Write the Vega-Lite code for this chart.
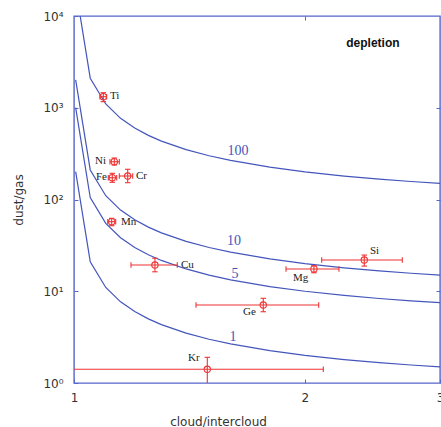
{
  "$schema": "https://vega.github.io/schema/vega-lite/v6.json",
  "width": 366,
  "height": 367,
  "autosize": {"type": "none"},
  "padding": {"left": 74, "top": 16, "right": 1, "bottom": 44},
  "background": "white",
  "config": {
    "view": {"stroke": "#5566cc", "strokeWidth": 1.4},
    "axis": {"grid": false, "domain": false, "labelFlush": false, "tickColor": "#5566cc", "tickWidth": 1, "tickSize": -4, "labelFont": "DejaVu Sans", "labelFontSize": 12, "labelColor": "#333333", "titleFont": "DejaVu Sans", "titleFontSize": 12, "titleFontWeight": "normal", "titleColor": "#333333"}
  },
  "datasets": {
    "curves": [
      {"D": "1", "x": 1.005, "y": 201}, {"D": "1", "x": 1.05, "y": 21}, {"D": "1", "x": 1.1, "y": 11}, {"D": "1", "x": 1.15, "y": 7.667}, {"D": "1", "x": 1.2, "y": 6}, {"D": "1", "x": 1.25, "y": 5}, {"D": "1", "x": 1.3, "y": 4.333}, {"D": "1", "x": 1.4, "y": 3.5}, {"D": "1", "x": 1.5, "y": 3}, {"D": "1", "x": 1.6, "y": 2.667}, {"D": "1", "x": 1.8, "y": 2.25}, {"D": "1", "x": 2.0, "y": 2}, {"D": "1", "x": 2.25, "y": 1.8}, {"D": "1", "x": 2.5, "y": 1.667}, {"D": "1", "x": 2.75, "y": 1.571}, {"D": "1", "x": 3.0, "y": 1.5},
      {"D": "5", "x": 1.005, "y": 1005}, {"D": "5", "x": 1.05, "y": 105}, {"D": "5", "x": 1.1, "y": 55}, {"D": "5", "x": 1.15, "y": 38.33}, {"D": "5", "x": 1.2, "y": 30}, {"D": "5", "x": 1.25, "y": 25}, {"D": "5", "x": 1.3, "y": 21.67}, {"D": "5", "x": 1.4, "y": 17.5}, {"D": "5", "x": 1.5, "y": 15}, {"D": "5", "x": 1.6, "y": 13.33}, {"D": "5", "x": 1.8, "y": 11.25}, {"D": "5", "x": 2.0, "y": 10}, {"D": "5", "x": 2.25, "y": 9}, {"D": "5", "x": 2.5, "y": 8.333}, {"D": "5", "x": 2.75, "y": 7.857}, {"D": "5", "x": 3.0, "y": 7.5},
      {"D": "10", "x": 1.005, "y": 2010}, {"D": "10", "x": 1.05, "y": 210}, {"D": "10", "x": 1.1, "y": 110}, {"D": "10", "x": 1.15, "y": 76.67}, {"D": "10", "x": 1.2, "y": 60}, {"D": "10", "x": 1.25, "y": 50}, {"D": "10", "x": 1.3, "y": 43.33}, {"D": "10", "x": 1.4, "y": 35}, {"D": "10", "x": 1.5, "y": 30}, {"D": "10", "x": 1.6, "y": 26.67}, {"D": "10", "x": 1.8, "y": 22.5}, {"D": "10", "x": 2.0, "y": 20}, {"D": "10", "x": 2.25, "y": 18}, {"D": "10", "x": 2.5, "y": 16.67}, {"D": "10", "x": 2.75, "y": 15.71}, {"D": "10", "x": 3.0, "y": 15},
      {"D": "100", "x": 1.005, "y": 20100}, {"D": "100", "x": 1.05, "y": 2100}, {"D": "100", "x": 1.1, "y": 1100}, {"D": "100", "x": 1.15, "y": 766.7}, {"D": "100", "x": 1.2, "y": 600}, {"D": "100", "x": 1.25, "y": 500}, {"D": "100", "x": 1.3, "y": 433.3}, {"D": "100", "x": 1.4, "y": 350}, {"D": "100", "x": 1.5, "y": 300}, {"D": "100", "x": 1.6, "y": 266.7}, {"D": "100", "x": 1.8, "y": 225}, {"D": "100", "x": 2.0, "y": 200}, {"D": "100", "x": 2.25, "y": 180}, {"D": "100", "x": 2.5, "y": 166.7}, {"D": "100", "x": 2.75, "y": 157.1}, {"D": "100", "x": 3.0, "y": 150}
    ],
    "points": [
      {"el": "Ti", "x": 1.092, "y": 1319, "xlo": 1.081, "xhi": 1.103, "ylo": 1164, "yhi": 1459, "lx": 1.114, "ly": 1343, "side": "left"},
      {"el": "Ni", "x": 1.1286, "y": 258, "xlo": 1.114, "xhi": 1.1457, "ylo": 237.7, "yhi": 283.3, "lx": 1.1008, "ly": 259.6, "side": "right"},
      {"el": "Fe", "x": 1.1218, "y": 172.8, "xlo": 1.1084, "xhi": 1.1368, "ylo": 154, "yhi": 193, "lx": 1.1041, "ly": 175.9, "side": "right"},
      {"el": "Cr", "x": 1.1749, "y": 180.3, "xlo": 1.1457, "xhi": 1.1927, "ylo": 152.4, "yhi": 213.5, "lx": 1.2045, "ly": 180.3, "side": "left"},
      {"el": "Mn", "x": 1.1198, "y": 57.3, "xlo": 1.1065, "xhi": 1.1333, "ylo": 51.8, "yhi": 62.4, "lx": 1.1515, "ly": 56.9, "side": "left"},
      {"el": "Cu", "x": 1.275, "y": 19.3, "xlo": 1.1866, "xhi": 1.3635, "ylo": 16.3, "yhi": 22.9, "lx": 1.3788, "ly": 19.3, "side": "left"},
      {"el": "Si", "x": 2.39, "y": 21.9, "xlo": 2.1034, "xhi": 2.679, "ylo": 18.8, "yhi": 24.8, "lx": 2.4314, "ly": 27.5, "side": "left"},
      {"el": "Mg", "x": 2.055, "y": 17.5, "xlo": 1.8896, "xhi": 2.2153, "ylo": 15.9, "yhi": 19.0, "lx": 1.9298, "ly": 14.1, "side": "left"},
      {"el": "Ge", "x": 1.765, "y": 7.08, "xlo": 1.4423, "xhi": 2.0845, "ylo": 5.98, "yhi": 8.38, "lx": 1.6608, "ly": 5.94, "side": "left"},
      {"el": "Kr", "x": 1.492, "y": 1.41, "xlo": 0.95, "xhi": 2.1135, "ylo": 0.9, "yhi": 1.905, "lx": 1.408, "ly": 1.85, "side": "left"}
    ],
    "curvelabels": [
      {"t": "100", "x": 1.636, "y": 337.9},
      {"t": "10", "x": 1.6165, "y": 35.3},
      {"t": "5", "x": 1.6214, "y": 15.6},
      {"t": "1", "x": 1.6117, "y": 3.17}
    ],
    "note": [{"t": "depletion", "x": 2.453, "y": 5080}]
  },
  "resolve": {"axis": {"x": "independent", "y": "independent"}},
  "layer": [
    {
      "data": {"name": "curves"},
      "mark": {"type": "line", "clip": true, "color": "#4455bb", "strokeWidth": 1.2},
      "encoding": {
        "x": {"field": "x", "type": "quantitative", "scale": {"type": "log", "domain": [1, 3], "nice": false},
          "axis": {"orient": "bottom", "values": [1, 2, 3], "format": "d", "labelPadding": 13, "title": "cloud/intercloud", "titleX": 144, "titleY": 38, "titleAlign": "center", "titleBaseline": "middle", "titleAnchor": null}},
        "y": {"field": "y", "type": "quantitative", "scale": {"type": "log", "domain": [1, 10000], "nice": false},
          "axis": {"orient": "left", "values": [1, 10, 100, 1000, 10000], "labelExpr": "['10⁰','10¹','10²','10³','10⁴'][round(log(datum.value)/LN10)]", "labelPadding": 15, "title": "dust/gas", "titleX": -56, "titleY": 183.5, "titleAlign": "center", "titleBaseline": "middle", "titleAngle": -90, "titleAnchor": null}},
        "detail": {"field": "D", "type": "nominal"}
      }
    },
    {
      "data": {"name": "points"},
      "mark": {"type": "rule", "clip": true, "color": "#ee3333", "strokeWidth": 1.1},
      "encoding": {
        "x": {"field": "xlo", "type": "quantitative", "axis": {"orient": "top", "values": [2], "labels": false, "title": null}},
        "x2": {"field": "xhi"},
        "y": {"field": "y", "type": "quantitative", "axis": {"orient": "right", "values": [10, 100, 1000], "labels": false, "title": null}}
      }
    },
    {
      "data": {"name": "points"},
      "mark": {"type": "rule", "clip": true, "color": "#ee3333", "strokeWidth": 1.1},
      "encoding": {
        "x": {"field": "x", "type": "quantitative", "axis": null},
        "y": {"field": "ylo", "type": "quantitative", "axis": null},
        "y2": {"field": "yhi"}
      }
    },
    {
      "data": {"name": "points"},
      "mark": {"type": "point", "clip": true, "shape": "M0,-1L0,1", "filled": false, "color": "#ee3333", "strokeWidth": 1.1, "size": 30, "opacity": 1},
      "encoding": {
        "x": {"field": "xlo", "type": "quantitative", "axis": null},
        "y": {"field": "y", "type": "quantitative", "axis": null}
      }
    },
    {
      "data": {"name": "points"},
      "mark": {"type": "point", "clip": true, "shape": "M0,-1L0,1", "filled": false, "color": "#ee3333", "strokeWidth": 1.1, "size": 30, "opacity": 1},
      "encoding": {
        "x": {"field": "xhi", "type": "quantitative", "axis": null},
        "y": {"field": "y", "type": "quantitative", "axis": null}
      }
    },
    {
      "data": {"name": "points"},
      "mark": {"type": "point", "clip": true, "shape": "M-1,0L1,0", "filled": false, "color": "#ee3333", "strokeWidth": 1.1, "size": 30, "opacity": 1},
      "encoding": {
        "x": {"field": "x", "type": "quantitative", "axis": null},
        "y": {"field": "ylo", "type": "quantitative", "axis": null}
      }
    },
    {
      "data": {"name": "points"},
      "mark": {"type": "point", "clip": true, "shape": "M-1,0L1,0", "filled": false, "color": "#ee3333", "strokeWidth": 1.1, "size": 30, "opacity": 1},
      "encoding": {
        "x": {"field": "x", "type": "quantitative", "axis": null},
        "y": {"field": "yhi", "type": "quantitative", "axis": null}
      }
    },
    {
      "data": {"name": "points"},
      "mark": {"type": "point", "shape": "circle", "filled": false, "color": "#ee3333", "strokeWidth": 1.1, "size": 40, "opacity": 1},
      "encoding": {
        "x": {"field": "x", "type": "quantitative", "axis": null},
        "y": {"field": "y", "type": "quantitative", "axis": null}
      }
    },
    {
      "data": {"name": "points"},
      "transform": [{"filter": "datum.side == 'left'"}],
      "mark": {"type": "text", "align": "left", "baseline": "middle", "font": "Liberation Serif", "fontSize": 11, "color": "#222222"},
      "encoding": {
        "x": {"field": "lx", "type": "quantitative", "axis": null},
        "y": {"field": "ly", "type": "quantitative", "axis": null},
        "text": {"field": "el"}
      }
    },
    {
      "data": {"name": "points"},
      "transform": [{"filter": "datum.side == 'right'"}],
      "mark": {"type": "text", "align": "right", "baseline": "middle", "font": "Liberation Serif", "fontSize": 11, "color": "#222222"},
      "encoding": {
        "x": {"field": "lx", "type": "quantitative", "axis": null},
        "y": {"field": "ly", "type": "quantitative", "axis": null},
        "text": {"field": "el"}
      }
    },
    {
      "data": {"name": "curvelabels"},
      "mark": {"type": "text", "align": "center", "baseline": "middle", "font": "Liberation Serif", "fontSize": 14, "color": "#4455bb"},
      "encoding": {
        "x": {"field": "x", "type": "quantitative", "axis": null},
        "y": {"field": "y", "type": "quantitative", "axis": null},
        "text": {"field": "t"}
      }
    },
    {
      "data": {"name": "note"},
      "mark": {"type": "text", "align": "center", "baseline": "middle", "font": "Liberation Sans", "fontSize": 12, "fontWeight": "bold", "color": "#111111"},
      "encoding": {
        "x": {"field": "x", "type": "quantitative", "axis": null},
        "y": {"field": "y", "type": "quantitative", "axis": null},
        "text": {"field": "t"}
      }
    }
  ]
}
